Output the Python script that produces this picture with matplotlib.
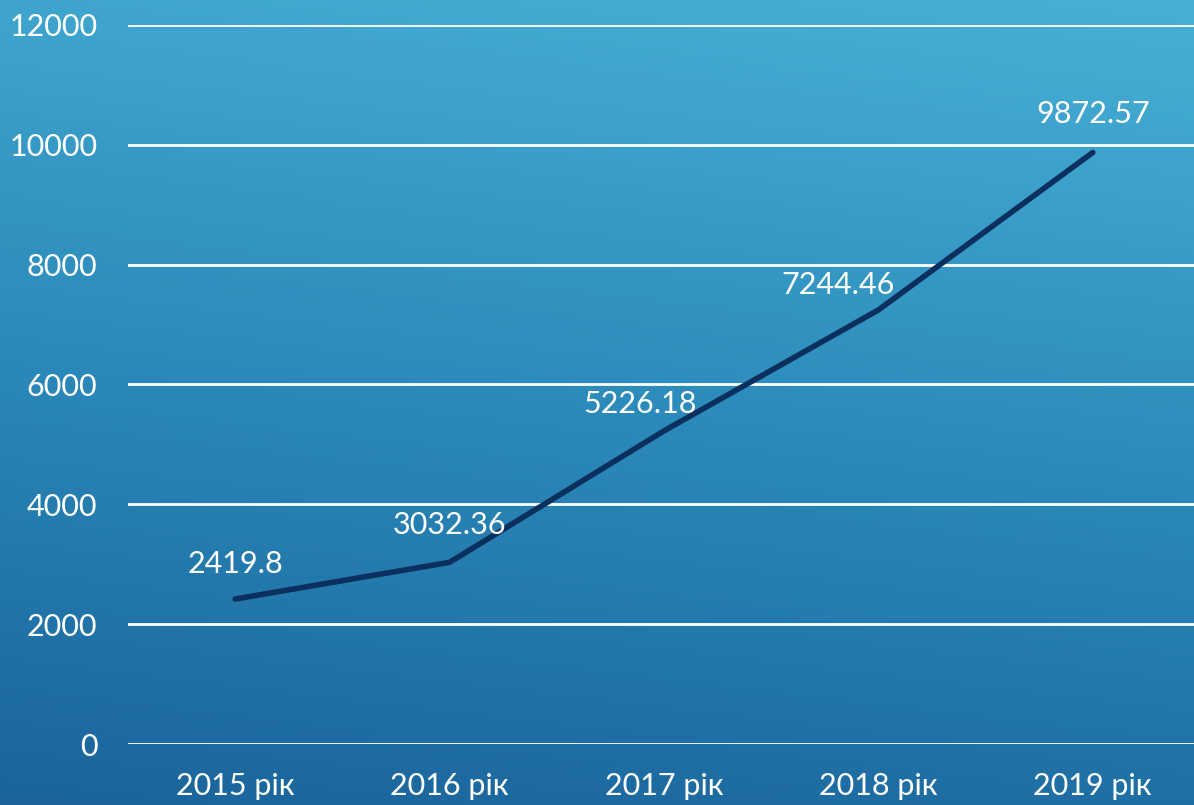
import numpy as np
from matplotlib import pyplot as plt
from matplotlib.colors import LinearSegmentedColormap

years = ['2015 рік', '2016 рік', '2017 рік', '2018 рік', '2019 рік']
values = [2419.8, 3032.36, 5226.18, 7244.46, 9872.57]
labels = ['2419.8', '3032.36', '5226.18', '7244.46', '9872.57']
yticks = [0, 2000, 4000, 6000, 8000, 10000, 12000]

# where each value label sits relative to its point (pixels)
label_offsets = [(0, 35), (0, 37), (-24, 27), (-40, 25), (0, 38)]

plt.rcParams['font.family'] = ['Lato', 'DejaVu Sans']

fig = plt.figure(figsize=(11.94, 8.05), dpi=100)

# background gradient, lighter towards top right
bg = fig.add_axes([0, 0, 1, 1])
gx, gy = np.meshgrid(np.linspace(0, 1, 200), np.linspace(0, 1, 200))
grad = 0.85 * gy + 0.15 * gx
cmap = LinearSegmentedColormap.from_list('bg', ['#1a649b', '#2c8bbb', '#47b0d6'])
bg.imshow(grad, cmap=cmap, origin='lower', aspect='auto', extent=[0, 1, 0, 1])
bg.set_axis_off()

ax = fig.add_axes([128 / 1194, 61 / 805, 1072 / 1194, 719 / 805])
ax.patch.set_alpha(0)
x = np.arange(len(years))
ax.plot(x, values, color='#0b2f5e', lw=4, solid_capstyle='round', zorder=3)

for xi, v, t, off in zip(x, values, labels, label_offsets):
    ax.annotate(t, (xi, v), xytext=off, textcoords='offset pixels',
                ha='center', va='center', color='white', fontsize=22)

ax.set_xlim(-0.5, len(years) - 0.5)
ax.set_ylim(0, 12000)
ax.set_yticks(yticks)
ax.set_yticklabels([str(t) for t in yticks])
ax.set_xticks(x)
ax.set_xticklabels(years)
ax.grid(axis='y', color='white', lw=2)
ax.set_axisbelow(True)
ax.tick_params(axis='both', length=0, colors='white', labelsize=22)
ax.tick_params(axis='y', pad=22)
ax.tick_params(axis='x', pad=20)
for s in ax.spines.values():
    s.set_visible(False)

fig.savefig('out.png', dpi=100)
